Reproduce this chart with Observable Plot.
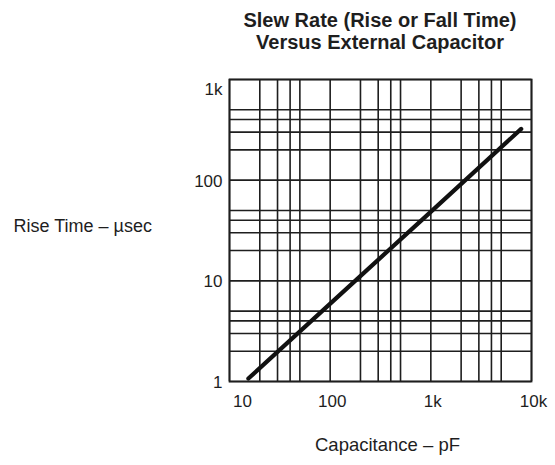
<!DOCTYPE html>
<html>
<head>
<meta charset="utf-8">
<script src="https://cdn.jsdelivr.net/npm/d3@7"></script>
<script src="https://cdn.jsdelivr.net/npm/@observablehq/plot@0.6"></script>
<style>
  html, body { margin: 0; padding: 0; background: #fff; }
  body { width: 555px; height: 465px; overflow: hidden; font-family: "Liberation Sans", Arial, sans-serif; }
  #title { box-sizing: border-box; width: 555px; height: 60px; padding: 9px 0 0 205px; text-align: center;
           font-weight: bold; font-size: 20px; line-height: 22px; color: #1e1e1e; }
  svg { display: block; }
</style>
</head>
<body>
<div id="title"></div>
<div id="chart"></div>
<script>
const titleLines = ["Slew Rate (Rise or Fall Time)", "Versus External Capacitor"];
const xLabel = "Capacitance – pF";
const yLabel = "Rise Time – µsec";

const xGrid = [10, 20, 30, 40, 50, 100, 200, 300, 400, 500, 1000, 2000, 3000, 4000, 5000, 10000];
const yGrid = [1, 2, 3, 4, 5, 10, 20, 30, 40, 50, 100, 200, 300, 400, 500, 1000];

const xTicks = [10, 100, 1000, 10000];
const xTickLabels = ["10", "100", "1k", "10k"];
const yTicks = [1, 10, 100, 1000];
const yTickLabels = ["1", "10", "100", "1k"];

// curve
const capacitance = [15.4, 185, 920, 7900];
const riseTime = [1.07, 10.4, 45, 323];

document.getElementById("title").innerHTML = titleLines.join("<br>");

const ink = "#1e1e1e";
const xFmt = d => xTickLabels[xTicks.indexOf(d)];
const yFmt = d => yTickLabels[yTicks.indexOf(d)];

const chart = Plot.plot({
  width: 555,
  height: 405,
  marginTop: 19,
  marginBottom: 84,
  marginLeft: 229,
  marginRight: 24,
  style: { fontFamily: "Liberation Sans, Arial, sans-serif", background: "#fff", color: ink },
  x: { type: "log", domain: [10, 10000], axis: null },
  y: { type: "log", domain: [1, 1000], axis: null },
  marks: [
    Plot.ruleX(xGrid, { x: d => d, stroke: ink, strokeWidth: 1.6 }),
    Plot.ruleY(yGrid, { y: d => d, stroke: ink, strokeWidth: 1.6 }),
    Plot.frame({ stroke: ink, strokeWidth: 1.8 }),
    Plot.line(capacitance, { x: d => d, y: (d, i) => riseTime[i], stroke: "#111", strokeWidth: 4.2 }),
    Plot.axisX(xTicks.slice(0, 1), { tickSize: 0, tickPadding: 13, tickFormat: xFmt, fontSize: 17, fill: ink, dx: 13 }),
    Plot.axisX(xTicks.slice(1), { tickSize: 0, tickPadding: 13, tickFormat: xFmt, fontSize: 17, fill: ink, dx: 2 }),
    Plot.axisY(yTicks.slice(0, 3), { tickSize: 0, tickPadding: 7, tickFormat: yFmt, fontSize: 17, fill: ink, dy: 1 }),
    Plot.axisY(yTicks.slice(3), { tickSize: 0, tickPadding: 7, tickFormat: yFmt, fontSize: 17, fill: ink, dy: 10 }),
    Plot.text([yLabel], { text: d => d, frameAnchor: "left", textAnchor: "start", dx: -216, dy: -4, fontSize: 18, fill: ink }),
    Plot.text([xLabel], { text: d => d, frameAnchor: "bottom", dx: 7, dy: 69, fontSize: 18.5, fill: ink })
  ]
});
document.getElementById("chart").appendChild(chart);
</script>
</body>
</html>
